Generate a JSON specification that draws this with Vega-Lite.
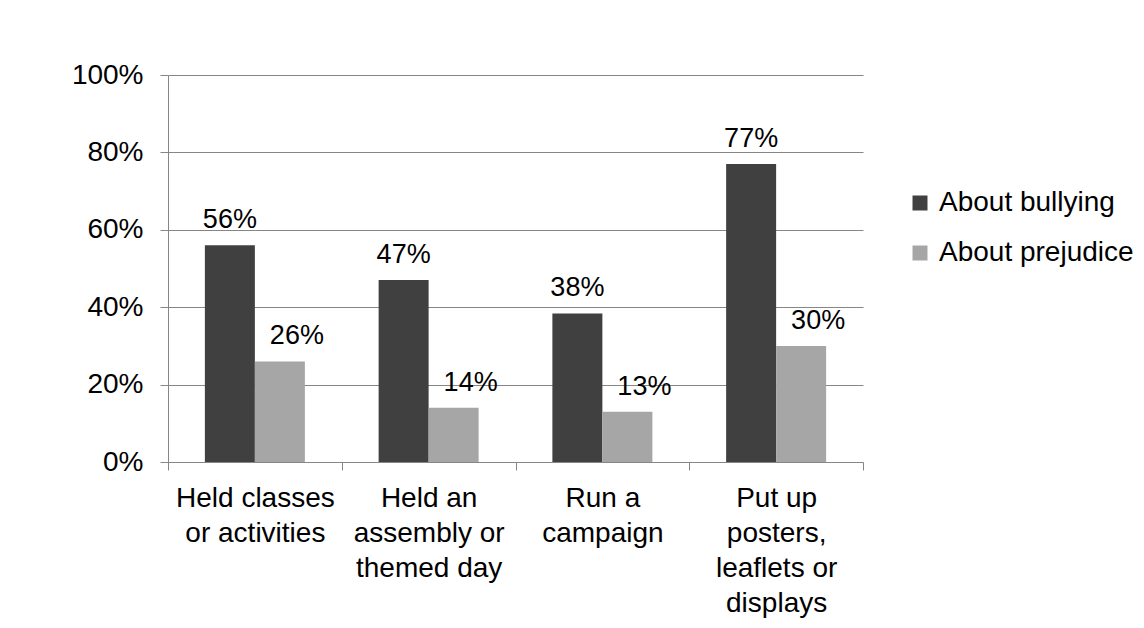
{
  "$schema": "https://vega.github.io/schema/vega-lite/v6.json",
  "autosize": "none",
  "width": 695,
  "height": 387,
  "padding": {"left": 168, "top": 75, "right": 281, "bottom": 166},
  "background": "white",
  "data": {
    "values": [
      {"activity": "Held classes|or activities", "series": "About bullying", "value": 0.56},
      {"activity": "Held classes|or activities", "series": "About prejudice", "value": 0.26},
      {"activity": "Held an|assembly or|themed day", "series": "About bullying", "value": 0.47},
      {"activity": "Held an|assembly or|themed day", "series": "About prejudice", "value": 0.14},
      {"activity": "Run a|campaign", "series": "About bullying", "value": 0.384},
      {"activity": "Run a|campaign", "series": "About prejudice", "value": 0.13},
      {"activity": "Put up|posters,|leaflets or|displays", "series": "About bullying", "value": 0.77},
      {"activity": "Put up|posters,|leaflets or|displays", "series": "About prejudice", "value": 0.30}
    ]
  },
  "config": {
    "font": "Liberation Sans",
    "view": {"stroke": null},
    "axis": {"labelColor": "black", "labelFont": "Liberation Sans", "domainColor": "#868686", "tickColor": "#868686", "gridColor": "#868686", "gridOpacity": 1}
  },
  "encoding": {
    "x": {
      "field": "activity",
      "type": "nominal",
      "sort": null,
      "scale": {"paddingInner": 0, "paddingOuter": 0},
      "axis": {
        "title": null,
        "labelAngle": 0,
        "labelExpr": "split(datum.label, '|')",
        "labelFontSize": 28,
        "labelLineHeight": 35,
        "labelPadding": 14,
        "tickBand": "extent",
        "tickSize": 8,
        "labelLimit": 300,
        "grid": false
      }
    },
    "y": {
      "field": "value",
      "type": "quantitative",
      "scale": {"domain": [0, 1], "nice": false},
      "axis": {
        "title": null,
        "values": [0, 0.2, 0.4, 0.6, 0.8, 1],
        "format": ".0%",
        "labelFontSize": 28,
        "labelPadding": 17,
        "tickSize": 8,
        "grid": true
      }
    },
    "xOffset": {"field": "series", "type": "nominal", "scale": {"paddingInner": 0, "paddingOuter": 0.7375}}
  },
  "layer": [
    {
      "mark": {"type": "bar"},
      "encoding": {
        "color": {
          "field": "series",
          "type": "nominal",
          "scale": {"domain": ["About bullying", "About prejudice"], "range": ["#404040", "#a6a6a6"]},
          "legend": {
            "title": null,
            "orient": "none",
            "legendX": 738,
            "legendY": 114,
            "symbolType": "square",
            "symbolSize": 225,
            "symbolStrokeWidth": 0,
            "labelFontSize": 28,
            "labelFont": "Liberation Sans",
            "labelColor": "black",
            "labelOffset": 5,
            "rowPadding": 22,
            "labelLimit": 300
          }
        }
      }
    },
    {
      "transform": [{"filter": "datum.series == 'About bullying'"}],
      "mark": {"type": "text", "fontSize": 27, "baseline": "alphabetic", "dy": -17, "color": "black"},
      "encoding": {"text": {"field": "value", "type": "quantitative", "format": ".0%"}}
    },
    {
      "transform": [{"filter": "datum.series == 'About prejudice'"}],
      "mark": {"type": "text", "fontSize": 27, "baseline": "alphabetic", "dy": -17, "dx": 17, "color": "black"},
      "encoding": {"text": {"field": "value", "type": "quantitative", "format": ".0%"}}
    }
  ]
}
